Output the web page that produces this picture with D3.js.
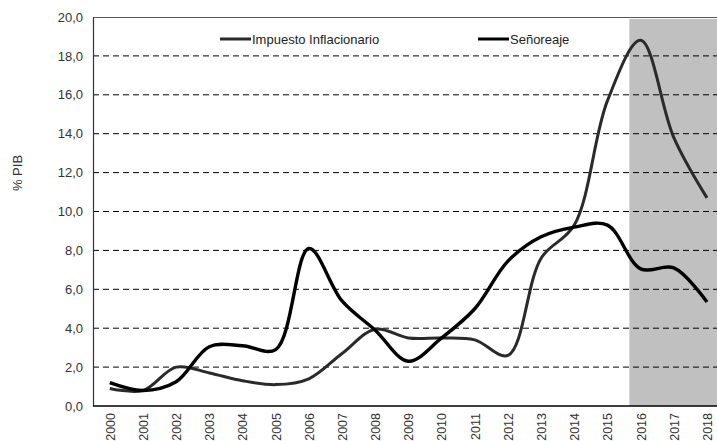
<!DOCTYPE html>
<html><head><meta charset="utf-8">
<script src="https://cdn.jsdelivr.net/npm/d3@7/dist/d3.min.js"></script>
<style>body{margin:0;background:#fff}svg{display:block;font-family:"Liberation Sans",Arial,sans-serif}</style>
</head><body><svg id="c" width="717" height="441"></svg>
<script>
const years = [2000,2001,2002,2003,2004,2005,2006,2007,2008,2009,2010,2011,2012,2013,2014,2015,2016,2017,2018];
const impuestoInflacionario = [0.9,0.8,2.0,1.7,1.3,1.1,1.4,2.7,3.95,3.5,3.5,3.4,2.6,7.6,9.3,15.7,18.8,13.8,10.7];
const senoreaje = [1.2,0.8,1.25,3.05,3.1,2.9,8.1,5.4,3.9,2.3,3.5,5.0,7.45,8.7,9.2,9.3,7.05,7.1,5.35];
const yTicks = [0,2,4,6,8,10,12,14,16,18,20];
const shadeStart = 2015.66;
const seriesNames = ["Impuesto Inflacionario","Señoreaje"];

const svg = d3.select("#c");
const L = 93, T = 17, B = 406, R = 717;
const x = d3.scaleLinear().domain([2000,2018]).range([109.8,707]);
const y = d3.scaleLinear().domain([0,20]).range([B,T]);

// shading
svg.append("rect").attr("x",x(shadeStart)).attr("y",y(19.9)).attr("width",R-x(shadeStart)).attr("height",B-y(19.9)).attr("fill","#c0c0c0");

// grid
svg.append("g").selectAll("line").data(yTicks.filter(d=>d>0&&d<20)).join("line")
  .attr("x1",L).attr("x2",R).attr("y1",d=>y(d)).attr("y2",d=>y(d))
  .attr("stroke","#000").attr("stroke-width",1).attr("stroke-dasharray","6,4");
// top border
svg.append("line").attr("x1",L).attr("x2",R).attr("y1",y(20)+0.5).attr("y2",y(20)+0.5).attr("stroke","#555").attr("stroke-width",1.2);

// axes
const yAxis = d3.axisLeft(y).tickValues(yTicks).tickSize(0).tickPadding(10).tickFormat(d=>d3.format(".1f")(d).replace(".",","));
const gy = svg.append("g").attr("transform",`translate(${L},0)`).call(yAxis);
gy.select(".domain").attr("stroke","#333").attr("stroke-width",1.2);
gy.selectAll("text").attr("font-size",13).attr("fill","#333").attr("font-family","Liberation Sans, Arial, sans-serif");

const xAxis = d3.axisBottom(x).tickValues(years).tickSize(0).tickFormat(d3.format("d"));
const gx = svg.append("g").attr("transform",`translate(0,${B})`).call(xAxis);
gx.select(".domain").attr("d",`M${L},0H${R}`).attr("stroke","#000").attr("stroke-width",1.5);
gx.selectAll("text").attr("font-size",12.5).attr("fill","#333").attr("font-family","Liberation Sans, Arial, sans-serif")
  .attr("transform","rotate(-90)").attr("text-anchor","end").attr("x",-7).attr("y",0).attr("dy","0.35em");

// y label
svg.append("text").attr("transform","translate(22,173) rotate(-90)").attr("text-anchor","middle")
  .attr("font-size",13).attr("fill","#333").text("% PIB");

// lines
const line = d3.line().x((d,i)=>x(years[i])).y(d=>y(d)).curve(d3.curveCatmullRom.alpha(0.5));
svg.append("path").datum(impuestoInflacionario).attr("d",line).attr("fill","none").attr("stroke","#2a2a2a").attr("stroke-width",3);
svg.append("path").datum(senoreaje).attr("d",line).attr("fill","none").attr("stroke","#000").attr("stroke-width",3.4);

// legend
const leg = [{n:seriesNames[0],x:220,c:"#2a2a2a"},{n:seriesNames[1],x:478,c:"#000"}];
const lg = svg.append("g").selectAll("g").data(leg).join("g").attr("transform",d=>`translate(${d.x},39)`);
lg.append("line").attr("x1",0).attr("x2",31).attr("stroke",d=>d.c).attr("stroke-width",3);
lg.append("text").attr("x",32).attr("dy","0.35em").attr("font-size",13).attr("fill","#222").text(d=>d.n);
</script></body></html>
